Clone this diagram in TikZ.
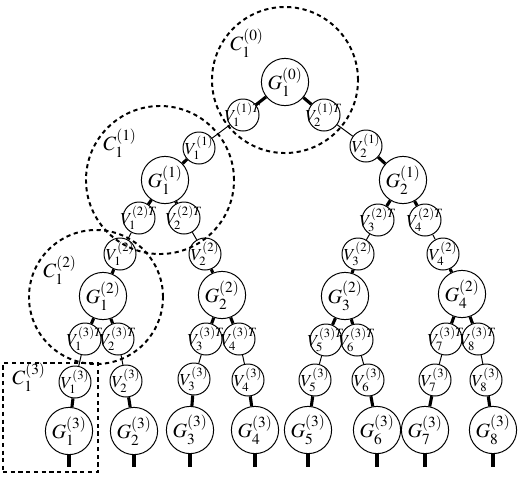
\documentclass[tikz,border=0pt]{standalone}
\usepackage{mathptmx}

\begin{document}
\begin{tikzpicture}[
    x=0.025cm, y=-0.025cm,
    gnode/.style={draw, circle, line width=0.7pt, minimum size=1.18cm, inner sep=0pt,
        label={[font=\Large, inner sep=0pt]center:#1}},
    vnode/.style={draw, circle, line width=0.7pt, minimum size=0.8cm, inner sep=0pt,
        label={[font=\large, inner sep=0pt]center:#1}},
    heavy/.style={line width=2.2pt},
    light/.style={line width=0.7pt},
    cluster/.style={draw, line width=1.4pt, dash pattern=on 3pt off 2.5pt},
    clabel/.style={font=\Large, inner sep=0pt}
]
\useasboundingbox (0,0) rectangle (520,476);

% clusters
\node[cluster, circle, minimum size=3.65cm] (C0) at (285,80) {};
\node[cluster, circle, minimum size=3.7cm] (C1) at (160,180) {};
\node[cluster, circle, minimum size=3.35cm] (C2) at (96,297) {};
\node[cluster, rectangle, minimum width=2.38cm, minimum height=2.72cm] (C3) at (50.5,417.5) {};
\node[clabel] (LC0) at (247,43) {$C^{(0)}_1$};
\node[clabel] (LC1) at (120,143) {$C^{(1)}_1$};
\node[clabel] (LC2) at (60,270) {$C^{(2)}_1$};
\node[clabel] (LC3) at (29,377) {$C^{(3)}_1$};

% level 0
\node[gnode={$G^{(0)}_1$}] (g0-1) at (285,82) {};

% level 1
\node[vnode={$V^{(1)T}_1$}] (vt1-1) at (243,115) {};
\node[vnode={$V^{(1)T}_2$}] (vt1-2) at (324,115) {};
\node[vnode={$V^{(1)}_1$}] (v1-1) at (199,148) {};
\node[vnode={$V^{(1)}_2$}] (v1-2) at (366,146) {};
\node[gnode={$G^{(1)}_1$}] (g1-1) at (165,180) {};
\node[gnode={$G^{(1)}_2$}] (g1-2) at (403,180) {};

% level 2
\node[vnode={$V^{(2)T}_1$}] (vt2-1) at (139,218) {};
\node[vnode={$V^{(2)T}_2$}] (vt2-2) at (184,218) {};
\node[vnode={$V^{(2)T}_3$}] (vt2-3) at (378,220) {};
\node[vnode={$V^{(2)T}_4$}] (vt2-4) at (425,220) {};
\node[vnode={$V^{(2)}_1$}] (v2-1) at (120,254) {};
\node[vnode={$V^{(2)}_2$}] (v2-2) at (205,254) {};
\node[vnode={$V^{(2)}_3$}] (v2-3) at (358,254) {};
\node[vnode={$V^{(2)}_4$}] (v2-4) at (443,254) {};
\node[gnode={$G^{(2)}_1$}] (g2-1) at (103,296) {};
\node[gnode={$G^{(2)}_2$}] (g2-2) at (222,295) {};
\node[gnode={$G^{(2)}_3$}] (g2-3) at (345,296) {};
\node[gnode={$G^{(2)}_4$}] (g2-4) at (462,294) {};

% level 3
\node[vnode={$V^{(3)T}_1$}] (vt3-1) at (85,339) {};
\node[vnode={$V^{(3)T}_2$}] (vt3-2) at (118,339) {};
\node[vnode={$V^{(3)T}_3$}] (vt3-3) at (206,339) {};
\node[vnode={$V^{(3)T}_4$}] (vt3-4) at (239,339) {};
\node[vnode={$V^{(3)T}_5$}] (vt3-5) at (326,340) {};
\node[vnode={$V^{(3)T}_6$}] (vt3-6) at (357,340) {};
\node[vnode={$V^{(3)T}_7$}] (vt3-7) at (446,339) {};
\node[vnode={$V^{(3)T}_8$}] (vt3-8) at (478,339) {};
\node[vnode={$V^{(3)}_1$}] (v3-1) at (75,382) {};
\node[vnode={$V^{(3)}_2$}] (v3-2) at (126,381) {};
\node[vnode={$V^{(3)}_3$}] (v3-3) at (194,379) {};
\node[vnode={$V^{(3)}_4$}] (v3-4) at (248,380) {};
\node[vnode={$V^{(3)}_5$}] (v3-5) at (315,380) {};
\node[vnode={$V^{(3)}_6$}] (v3-6) at (368,380) {};
\node[vnode={$V^{(3)}_7$}] (v3-7) at (435,380) {};
\node[vnode={$V^{(3)}_8$}] (v3-8) at (486,380) {};
\node[gnode={$G^{(3)}_1$}] (g3-1) at (69,431) {};
\node[gnode={$G^{(3)}_2$}] (g3-2) at (134,431) {};
\node[gnode={$G^{(3)}_3$}] (g3-3) at (190,430) {};
\node[gnode={$G^{(3)}_4$}] (g3-4) at (255,430) {};
\node[gnode={$G^{(3)}_5$}] (g3-5) at (308,430) {};
\node[gnode={$G^{(3)}_6$}] (g3-6) at (377,430) {};
\node[gnode={$G^{(3)}_7$}] (g3-7) at (425,430) {};
\node[gnode={$G^{(3)}_8$}] (g3-8) at (493,430) {};
\foreach \i/\x in {1/69,2/134,3/190,4/255,5/308,6/377,7/425,8/493}
    \coordinate (out\i) at (\x,467);

% connections
\draw[heavy] (g0-1) -- (vt1-1);
\draw[heavy] (g0-1) -- (vt1-2);
\foreach \k in {1,2} {
    \draw[light] (vt1-\k) -- (v1-\k);
    \draw[heavy] (v1-\k) -- (g1-\k);
}
\foreach \p/\a/\b in {1/1/2,2/3/4} {
    \draw[heavy] (g1-\p) -- (vt2-\a);
    \draw[heavy] (g1-\p) -- (vt2-\b);
}
\foreach \k in {1,...,4} {
    \draw[light] (vt2-\k) -- (v2-\k);
    \draw[heavy] (v2-\k) -- (g2-\k);
}
\foreach \p/\a/\b in {1/1/2,2/3/4,3/5/6,4/7/8} {
    \draw[heavy] (g2-\p) -- (vt3-\a);
    \draw[heavy] (g2-\p) -- (vt3-\b);
}
\foreach \k in {1,...,8} {
    \draw[light] (vt3-\k) -- (v3-\k);
    \draw[heavy] (v3-\k) -- (g3-\k);
    \draw[heavy] (g3-\k) -- (out\k);
}
\end{tikzpicture}
\end{document}
